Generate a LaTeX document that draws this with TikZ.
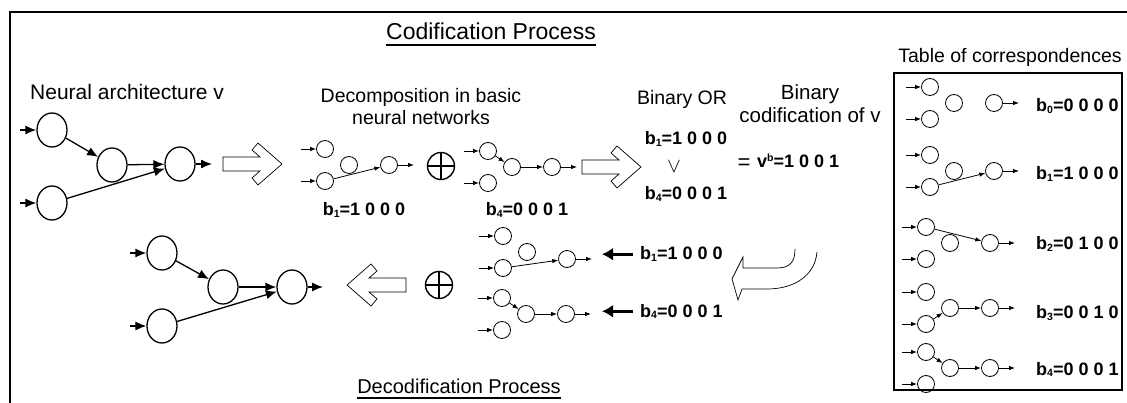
\documentclass[tikz,border=0pt]{standalone}
\usepackage{fontspec}
\setmainfont{Liberation Sans}
\usetikzlibrary{arrows.meta,shapes.geometric}

% code word with a small index: b_i
\newcommand\bsub[1]{b\raisebox{-1.5pt}{\fontsize{10.5}{11}\selectfont #1}}
% v with a small b exponent
\newcommand\vsup{v\raisebox{6.5pt}{\fontsize{10.5}{11}\selectfont b}}

% basic network: inputs A,B, hidden C, output D (name, x, y, extra dy of D)
\newcommand\snet[4]{%
  \node[smn] (#1A) at (#2,{#3-16}) {};
  \node[smn] (#1B) at (#2,{#3+16}) {};
  \node[smn] (#1C) at ({#2+24},#3) {};
  \node[smn] (#1D) at ({#2+64},{#3+#4}) {};
  \coordinate (#1iA) at ({#2-24},{#3-16});
  \coordinate (#1iB) at ({#2-24},{#3+16});
  \coordinate (#1o) at ({#2+89},{#3+#4});
  \draw[sme] (#1iA) -- (#1A);
  \draw[sme] (#1iB) -- (#1B);
  \draw[sme] (#1D) -- (#1o);
}

% hollow block arrow, pointing right from the local origin
\newcommand\blockarrow{%
  \draw[hollow] (0,-7) -- (37,-7) -- (29,-14) -- (35,-21) -- (59,0)
    -- (35,21) -- (29,14) -- (37,7) -- (0,7) -- cycle;
}

\begin{document}
\begin{tikzpicture}[x=1pt,y=-1pt,
  bign/.style={draw, ellipse, line width=1.3pt, minimum width=30pt, minimum height=34pt, inner sep=0pt},
  smn/.style={draw, circle, line width=0.8pt, minimum size=17pt, inner sep=0pt},
  bige/.style={line width=1.3pt, -{Latex[length=11pt,width=9pt]}},
  sme/.style={line width=0.8pt, -{Latex[length=6pt,width=4.5pt]}},
  lbl/.style={font=\fontsize{19.5}{22}\selectfont, inner sep=0pt},
  lblw/.style={font=\fontsize{20.5}{24}\selectfont, inner sep=0pt},
  code/.style={font=\bfseries\fontsize{18}{20}\selectfont, inner sep=0pt},
  hollow/.style={draw, fill=white, line width=0.7pt, line join=miter},
  thickarr/.style={line width=3pt, -{Latex[length=11pt,width=13pt]}},
  frame/.style={line width=1.3pt},
  uline/.style={line width=1.5pt},
  oplus/.style={draw, circle, line width=1.4pt, minimum size=27pt, inner sep=0pt}
]
\useasboundingbox (0,0) rectangle (1127,403);

% outer frame
\draw[frame] (1127,12) -- (10,12) -- (10,403);

% titles
\node[font=\fontsize{23}{26}\selectfont, inner sep=0pt, anchor=base] (ttl) at (491,40) {Codification Process};
\draw[uline] ([yshift=-5pt]ttl.base west) -- ([yshift=-5pt]ttl.base east);
\node[font=\fontsize{20}{24}\selectfont, inner sep=0pt, anchor=base] (ttlb) at (459,393) {Decodification Process};
\draw[uline] ([yshift=-5pt]ttlb.base west) -- ([yshift=-5pt]ttlb.base east);

% ---------- neural architecture v ----------
\node[font=\fontsize{21}{24}\selectfont, inner sep=0pt, anchor=base west] (arch) at (30,100) {Neural architecture v};
\node[bign] (t1) at (52,130) {};
\node[bign] (t2) at (112,165) {};
\node[bign] (t3) at (180,164) {};
\node[bign] (t4) at (52,203) {};
\coordinate (t1i) at (20,130);
\coordinate (t4i) at (20,203);
\coordinate (t3o) at (212,164);
\draw[bige] (t1i) -- (t1);
\draw[bige] (t4i) -- (t4);
\draw[bige] (t1) -- (t2);
\draw[bige] (t2) -- (t3);
\draw[bige] (t4) -- (t3);
\draw[bige] (t3) -- (t3o);

\begin{scope}[shift={(223,164)}]\blockarrow\end{scope}

% ---------- decomposition ----------
\node[lbl, anchor=base] (decA) at (421,103) {Decomposition in basic};
\node[lbl, anchor=base] (decB) at (421,125) {neural networks};

\snet{p}{325}{165}{0}
\draw[sme] (pB) -- (pD);
\node[code, anchor=base] (lp) at (364,216) {\bsub{1}=1 0 0 0};

\node[oplus] (op1) at (441,166) {};
\draw[line width=1.4pt] (op1.north) -- (op1.south) (op1.west) -- (op1.east);

\snet{q}{488}{167}{0}
\draw[sme] (qA) -- (qC);
\draw[sme] (qC) -- (qD);
\node[code, anchor=base] (lq) at (527,216) {\bsub{4}=0 0 0 1};

\begin{scope}[shift={(582,167)}]\blockarrow\end{scope}

% ---------- binary OR ----------
\node[lbl, anchor=base] (bor) at (682,105) {Binary OR};
\node[code, anchor=base] (or1) at (686,145) {\bsub{1}=1 0 0 0};
\node[font=\fontsize{21}{24}\selectfont, inner sep=0pt] (orv) at (674,167) {$\vee$};
\node[code, anchor=base] (or2) at (686,200) {\bsub{4}=0 0 0 1};

\node[lblw, anchor=base] (bcA) at (810,100) {Binary};
\node[lblw, anchor=base] (bcB) at (810,123) {codification of v};
\node[font=\fontsize{22}{24}\selectfont, inner sep=0pt, anchor=base] (eq) at (744,170) {=};
\node[code, anchor=base west] (vb) at (757,168) {\vsup=1 0 0 1};

% ---------- table of correspondences ----------
\node[lbl, anchor=base] (tabt) at (1010,63) {Table of correspondences};
\draw[frame] (894,73) rectangle (1122,390);

\snet{ta}{930}{103}{0}
\node[code, anchor=base west] (la) at (1036,112) {\bsub{0}=0 0 0 0};

\snet{tb}{930}{171}{0}
\draw[sme] (tbB) -- (tbD);
\node[code, anchor=base west] (lb) at (1036,180) {\bsub{1}=1 0 0 0};

\snet{tc}{926}{243}{0}
\draw[sme] (tcA) -- (tcD);
\node[code, anchor=base west] (lc) at (1036,250) {\bsub{2}=0 1 0 0};

\snet{td}{926}{308}{0}
\draw[sme] (tdB) -- (tdC);
\draw[sme] (tdC) -- (tdD);
\node[code, anchor=base west] (ld) at (1036,319) {\bsub{3}=0 0 1 0};

\snet{te}{926}{368}{0}
\draw[sme] (teA) -- (teC);
\draw[sme] (teC) -- (teD);
\node[code, anchor=base west] (le) at (1036,375) {\bsub{4}=0 0 0 1};

% ---------- decodification ----------
\draw[hollow, fill=none] (817,252) .. controls (815,275) and (795,289) .. (767,289)
  -- (742,289) -- (738,300) -- (732,279) -- (743,257) -- (743,268) -- (777,268)
  .. controls (790,268) and (795,262) .. (795,249);

\snet{r}{503}{252}{7}
\draw[sme] (rB) -- (rD);
\node[code, anchor=base west] (lr) at (640,260) {\bsub{1}=1 0 0 0};
\coordinate (rtip) at (602,0);
\draw[thickarr, shorten <=7pt] (lr.west) -- (lr.west -| rtip);

\snet{s}{502}{314}{0}
\draw[sme] (sA) -- (sC);
\draw[sme] (sC) -- (sD);
\node[code, anchor=base west] (ls) at (640,317) {\bsub{4}=0 0 0 1};
\draw[thickarr, shorten <=7pt] (ls.west) -- (ls.west -| rtip);

\node[oplus] (op2) at (439,285) {};
\draw[line width=1.4pt] (op2.north) -- (op2.south) (op2.west) -- (op2.east);

\begin{scope}[shift={(406,285)}, xscale=-1]\blockarrow\end{scope}

\node[bign] (d1) at (162,253) {};
\node[bign] (d2) at (223,287) {};
\node[bign] (d3) at (292,287) {};
\node[bign] (d4) at (162,326) {};
\coordinate (d1i) at (130,253);
\coordinate (d4i) at (130,326);
\coordinate (d3o) at (323,287);
\draw[bige] (d1i) -- (d1);
\draw[bige] (d4i) -- (d4);
\draw[bige] (d1) -- (d2);
\draw[bige] (d2) -- (d3);
\draw[bige] (d4) -- (d3);
\draw[bige] (d3) -- (d3o);
\end{tikzpicture}
\end{document}
